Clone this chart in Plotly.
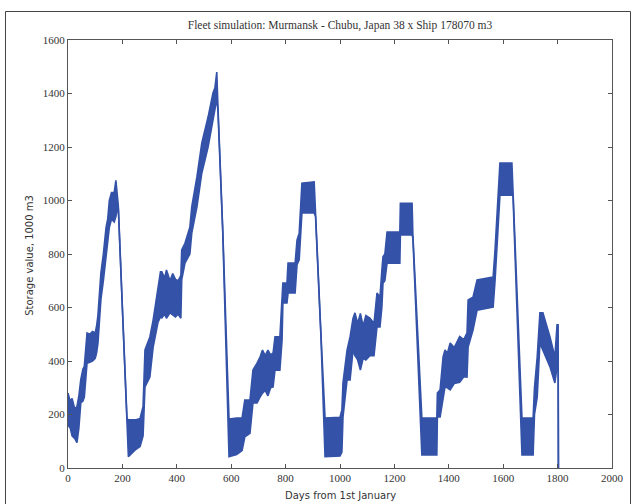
import plotly.graph_objects as go

# Envelope of the simulated storage level
days = [0, 8, 15, 25, 33, 40, 47, 55, 60, 66, 70, 80, 90, 100, 105, 110, 115, 121, 130, 140,
        146, 152, 160, 170, 176, 180, 185, 200, 217,
        222, 235, 250, 265, 276, 283, 301, 313, 327, 331, 340, 345, 355, 362, 375, 385, 395,
        405, 415, 418, 430, 448, 455, 474, 492, 515, 533, 540, 547, 551, 569,
        592, 620, 640, 650, 669, 680, 695, 706, 715, 725, 735, 745, 754, 761, 779, 787,
        790, 805, 809, 835, 842, 850, 860, 905, 910, 930, 945,
        1000, 1007, 1011, 1026, 1037, 1048, 1055, 1065, 1075, 1085, 1095, 1110, 1125,
        1136, 1147, 1154, 1158, 1165, 1173, 1220, 1222, 1265, 1268, 1301,
        1356, 1358, 1368, 1379, 1386, 1395, 1405, 1420, 1440, 1455, 1467, 1471, 1489,
        1504, 1563, 1570, 1577, 1588, 1632, 1636, 1669,
        1710, 1715, 1725, 1735, 1746, 1760, 1772, 1790, 1798, 1802, 1803]
upper = [280, 250, 260, 220, 230, 270, 330, 370, 380, 480, 505, 500, 510, 505, 530, 570, 640, 730, 800, 900,
         930, 1000, 1030, 1030, 1075, 1020, 980, 600, 185,
         180, 180, 180, 185, 230, 441, 490, 553, 639, 665, 733, 733, 710, 740, 700, 727, 705,
         700, 720, 815, 840, 900, 976, 1088, 1215, 1312, 1402, 1420, 1480, 1360, 890,
         183, 187, 187, 254, 254, 366, 392, 415, 441, 420, 441, 423, 430, 490, 490, 639,
         691, 691, 766, 766, 852, 878, 1065, 1070, 950, 500, 187,
         190, 217, 318, 441, 490, 560, 580, 540, 578, 530, 570, 560, 540,
         654, 639, 740, 790, 800, 882, 882, 990, 990, 870, 187,
         187, 280, 292, 415, 441, 429, 467, 450, 492, 480, 505, 628, 639,
         703, 714, 815, 938, 1140, 1140, 1030, 187,
         187, 300, 415, 580, 580, 530, 490, 415, 535, 535, 0]
lower = [160, 150, 120, 110, 95, 150, 243, 250, 265, 370, 392, 395, 400, 410, 430, 465, 540, 630, 700, 790,
         830, 900, 930, 920, 940, 960, 970, 590, 175,
         42, 55, 70, 80, 120, 303, 340, 452, 527, 545, 565, 561, 575, 560, 580, 572, 565,
         575, 560, 703, 766, 800, 878, 976, 1103, 1200, 1312, 1340, 1380, 1340, 880,
         42, 50, 65, 116, 130, 243, 243, 265, 280, 290, 270, 300, 303, 366, 366, 478,
         617, 617, 654, 654, 760, 778, 953, 953, 940, 490, 42,
         45, 60, 191, 329, 329, 441, 420, 404, 366, 410, 404, 420, 420,
         527, 527, 602, 691, 700, 766, 766, 871, 871, 860, 49,
         49, 191, 191, 254, 303, 300, 292, 316, 320, 341, 340, 452, 516,
         590, 602, 700, 841, 1020, 1020, 1020, 49,
         49, 200, 265, 467, 441, 410, 378, 318, 378, 378, 0]

x_ticks = [0, 200, 400, 600, 800, 1000, 1200, 1400, 1600, 1800, 2000]
y_ticks = [0, 200, 400, 600, 800, 1000, 1200, 1400, 1600]

title_text = "Fleet simulation: Murmansk - Chubu, Japan 38 x Ship 178070 m3"
x_title = "Days from 1st January"
y_title = "Storage value, 1000 m3"

blue = "#3352a8"

fig = go.Figure()
fig.add_trace(go.Scatter(x=days, y=upper, mode="lines",
                         line=dict(color=blue, width=1.6), showlegend=False,
                         hoverinfo="skip"))
fig.add_trace(go.Scatter(x=days, y=lower, mode="lines", fill="tonexty",
                         fillcolor=blue, line=dict(color=blue, width=1.6),
                         showlegend=False, hoverinfo="skip"))

axis_common = dict(showline=True, linecolor="#555555", linewidth=1, mirror="ticks",
                   ticks="inside", ticklen=4, tickcolor="#555555", showgrid=False,
                   zeroline=False,
                   tickfont=dict(family="Liberation Serif", size=11, color="#333333"))

fig.update_xaxes(range=[0, 2000], tickvals=x_ticks, ticktext=[str(v) for v in x_ticks],
                 **axis_common)
fig.update_yaxes(range=[0, 1600], tickvals=y_ticks, ticktext=[str(v) for v in y_ticks],
                 **axis_common)

fig.update_layout(
    width=632, height=504,
    margin=dict(l=68, r=20, t=40, b=36, autoexpand=False),
    paper_bgcolor="white", plot_bgcolor="white",
    title=dict(text=title_text, x=0.5, xref="paper", xanchor="center",
               y=1 - 25 / 504, yref="container", yanchor="middle",
               font=dict(family="Liberation Serif", size=11.5, color="#333333")),
    annotations=[
        dict(text=x_title, x=0.5, y=-0.0654, xref="paper", yref="paper",
             showarrow=False, xanchor="center", yanchor="middle",
             font=dict(family="DejaVu Sans", size=10, color="#333333")),
        dict(text=y_title, x=-0.0699, y=0.498, xref="paper", yref="paper",
             showarrow=False, textangle=-90, xanchor="center", yanchor="middle",
             font=dict(family="DejaVu Sans", size=10, color="#333333")),
    ],
    shapes=[dict(type="rect", xref="paper", yref="paper",
                 x0=(5.5 - 68) / 544, x1=(630.5 - 68) / 544,
                 y0=(468 - 520) / 428, y1=(468 - 11.5) / 428,
                 line=dict(color="#444444", width=1), fillcolor="rgba(0,0,0,0)")],
)

fig.write_html("out.html")
